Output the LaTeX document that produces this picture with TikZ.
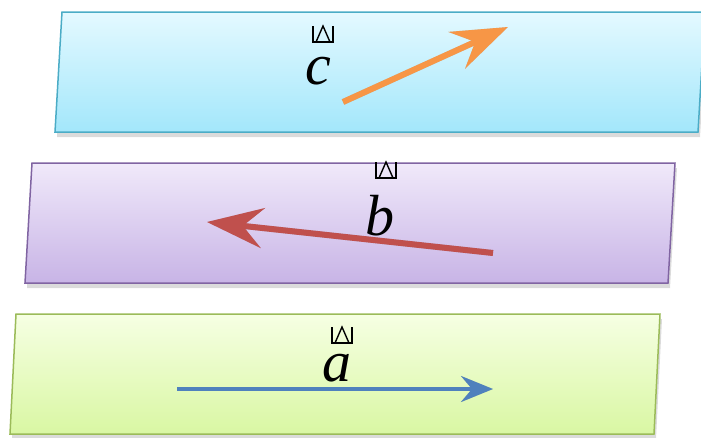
\documentclass[tikz,border=0pt]{standalone}
\usepackage{fontspec}
\newfontfamily\vecfont{Liberation Serif}
\usepackage{xcolor}
\usepackage{tikz}
\usetikzlibrary{arrows.meta,shadows}
\definecolor{cyanline}{HTML}{4BACC6}
\definecolor{cyantop}{HTML}{E4F9FF}
\definecolor{cyanbot}{HTML}{A3E7FB}
\definecolor{violine}{HTML}{8064A2}
\definecolor{viotop}{HTML}{F0E9FA}
\definecolor{viobot}{HTML}{C8B4E6}
\definecolor{limeline}{HTML}{9BBB59}
\definecolor{limetop}{HTML}{F6FFE3}
\definecolor{limebot}{HTML}{D9F7A3}
\definecolor{orangevec}{HTML}{F79646}
\definecolor{redvec}{HTML}{C0504D}
\definecolor{bluevec}{HTML}{4F81BD}
\tikzset{
  plane/.style={line width=1.5pt,line join=miter,
    drop shadow={shadow xshift=2pt,shadow yshift=-5pt,opacity=0.2,fill=black!70}},
  vecbig/.style={line width=6pt,-{Stealth[length=56pt,width=40pt,inset=20pt]}},
  vecsmall/.style={line width=3.2pt,-{Stealth[length=32pt,width=26pt,inset=11pt]}},
  vecshade/.style={draw=black,fill=black,opacity=0.12,shift={(2pt,-5pt)}},
  veclabel/.style={font=\vecfont\itshape\fontsize{58}{58}\selectfont,inner sep=0pt,anchor=base},
  nochar/.pic={
    \draw[line width=1.4pt] (-10,-8) -- (-10,8) -- (10,8) -- (10,-8);
    \draw[line width=1.4pt] (-7,8) -- (0,-8) -- (7,8);
  }
}

\begin{document}
\begin{tikzpicture}[x=1pt,y=-1pt]
\useasboundingbox (0,0) rectangle (701,437);
% planes
\path[plane,draw=cyanline,top color=cyantop,bottom color=cyanbot]
  (62,12) -- (705,12) -- (698,132) -- (55,132) -- cycle;
\path[plane,draw=violine,top color=viotop,bottom color=viobot]
  (32,163) -- (675,163) -- (668,283) -- (25,283) -- cycle;
\path[plane,draw=limeline,top color=limetop,bottom color=limebot]
  (16,314) -- (660,314) -- (654,434) -- (10,434) -- cycle;
% vectors
\coordinate (c0) at (343,102);
\coordinate (c1) at (508,27);
\coordinate (b0) at (493,253);
\coordinate (b1) at (207,222);
\coordinate (a0) at (177,389);
\coordinate (a1) at (493,389);
\draw[vecbig,vecshade] (c0) -- (c1);
\draw[vecbig,vecshade] (b0) -- (b1);
\draw[vecsmall,vecshade] (a0) -- (a1);
\draw[vecbig,draw=orangevec,fill=orangevec] (c0) -- (c1);
\draw[vecbig,draw=redvec,fill=redvec] (b0) -- (b1);
\draw[vecsmall,draw=bluevec,fill=bluevec] (a0) -- (a1);
% labels
\node[veclabel] (lc) at (318,84) {c};
\node[veclabel] (lb) at (380,235) {b};
\node[veclabel] (la) at (337,381) {a};
\pic at (323,34) {nochar};
\pic at (386,170) {nochar};
\pic at (342,335) {nochar};
\end{tikzpicture}
\end{document}
